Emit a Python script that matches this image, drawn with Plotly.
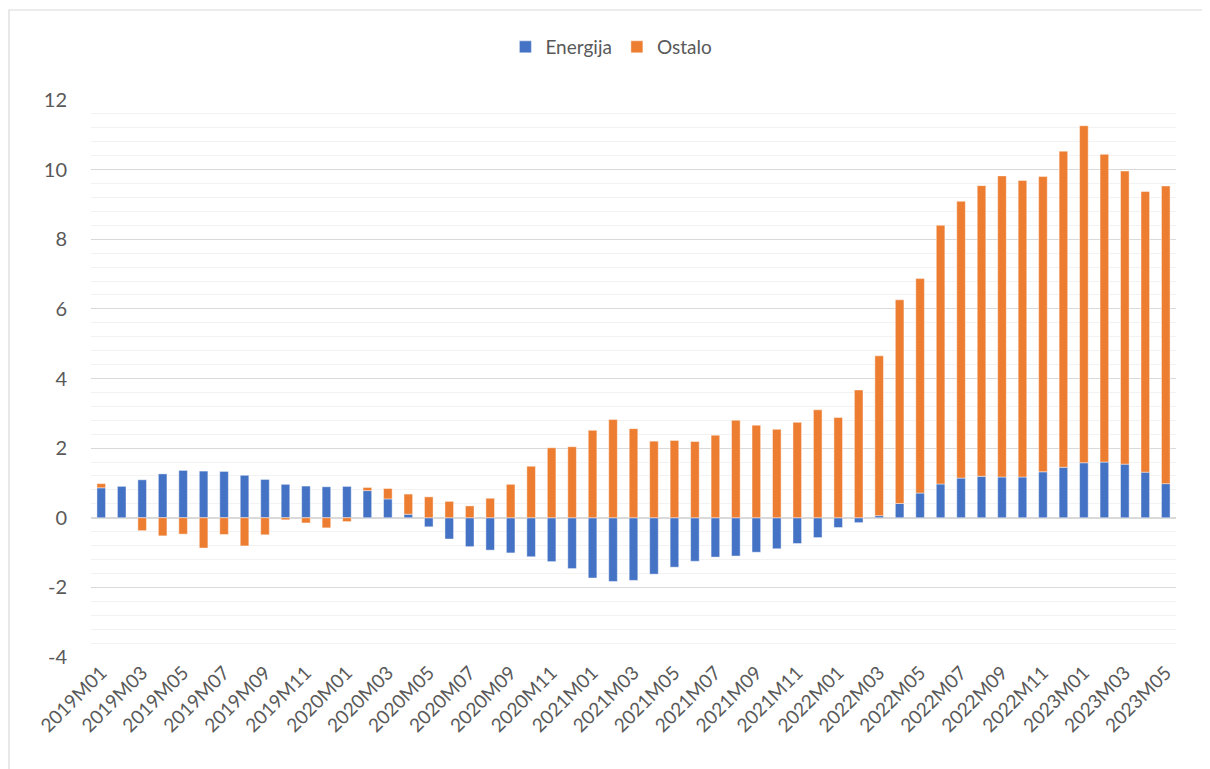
import plotly.graph_objects as go

years_months = [(y, m) for y in range(2019, 2024) for m in range(1, 13)]
categories = [f"{y}M{m:02d}" for (y, m) in years_months][:53]

energija = [0.86, 0.91, 1.09, 1.26, 1.36, 1.34, 1.33, 1.22, 1.10, 0.96, 0.91, 0.89,
            0.90, 0.78, 0.54, 0.10, -0.26, -0.61, -0.83, -0.93, -1.01, -1.12, -1.26, -1.46,
            -1.73, -1.83, -1.80, -1.62, -1.42, -1.25, -1.13, -1.10, -0.99, -0.89, -0.74, -0.57,
            -0.28, -0.14, 0.06, 0.41, 0.71, 0.97, 1.14, 1.19, 1.17, 1.17, 1.32, 1.45,
            1.58, 1.60, 1.54, 1.31, 0.98]

ostalo = [0.12, 0.0, -0.37, -0.52, -0.47, -0.87, -0.48, -0.81, -0.49, -0.06, -0.15, -0.29,
          -0.11, 0.09, 0.30, 0.58, 0.60, 0.47, 0.34, 0.56, 0.96, 1.48, 2.01, 2.04,
          2.51, 2.82, 2.56, 2.20, 2.22, 2.19, 2.37, 2.80, 2.66, 2.54, 2.74, 3.10,
          2.88, 3.67, 4.59, 5.85, 6.16, 7.43, 7.95, 8.35, 8.65, 8.52, 8.48, 9.08,
          9.68, 8.84, 8.42, 8.06, 8.55]

tick_labels = categories[::2]
y_tickvals = [-4, -2, 0, 2, 4, 6, 8, 10, 12]
y_ticktext = ["-4", "-2", "0", "2", "4", "6", "8", "10", "12"]

FONT = "Lato, 'Open Sans', sans-serif"
GRAY = "#595959"

W, H = 1202, 761
ML, MR, MT, MB = 83, 34, 92, 112
PW, PH = W - ML - MR, H - MT - MB

fig = go.Figure()
fig.add_trace(go.Bar(
    x=categories, y=energija, name="Energija",
    marker=dict(color="#4472C4", line=dict(color="rgba(255,255,255,0.55)", width=0.8)),
    width=0.42,
))
fig.add_trace(go.Bar(
    x=categories, y=ostalo, name="Ostalo",
    marker=dict(color="#ED7D31", line=dict(color="rgba(255,255,255,0.55)", width=0.8)),
    width=0.42,
))

fig.update_layout(
    width=W, height=H,
    barmode="relative",
    paper_bgcolor="white", plot_bgcolor="white",
    margin=dict(l=ML, r=MR, t=MT, b=MB),
    font=dict(family=FONT, color=GRAY, size=18),
    showlegend=True,
    legend=dict(orientation="h", xref="container", yref="container",
                x=0.502, y=1 - 39 / H, xanchor="center", yanchor="middle",
                font=dict(size=19, color=GRAY), itemwidth=30,
                traceorder="normal"),
    xaxis=dict(
        type="category", automargin=False,
        categoryorder="array", categoryarray=categories,
        tickmode="array", tickvals=tick_labels, ticktext=tick_labels,
        tickangle=-45, showgrid=False, ticks="", showline=False,
        tickfont=dict(size=19, color=GRAY),
        range=[-0.5, len(categories) - 0.5],
    ),
    yaxis=dict(
        range=[-4, 12], automargin=False,
        tickmode="array", tickvals=y_tickvals, ticktext=y_ticktext,
        showgrid=True, gridcolor="#D9D9D9", gridwidth=1.3,
        zeroline=True, zerolinecolor="#D9D9D9", zerolinewidth=2,
        ticks="", showline=False, ticklabelstandoff=23,
        tickfont=dict(size=20, color=GRAY),
        minor=dict(tick0=-4, dtick=0.4, showgrid=True, gridcolor="#F2F2F2", gridwidth=1.3),
    ),
    shapes=[dict(type="rect", xref="paper", yref="paper",
                 x0=(1 - ML) / PW, x1=(1195 - ML) / PW,
                 y0=-(H + 5 - MT - PH) / PH, y1=1 + (MT - 2) / PH,
                 line=dict(color="#D9D9D9", width=1.2), fillcolor="rgba(0,0,0,0)", layer="below")],
)

fig.write_html("out.html")
